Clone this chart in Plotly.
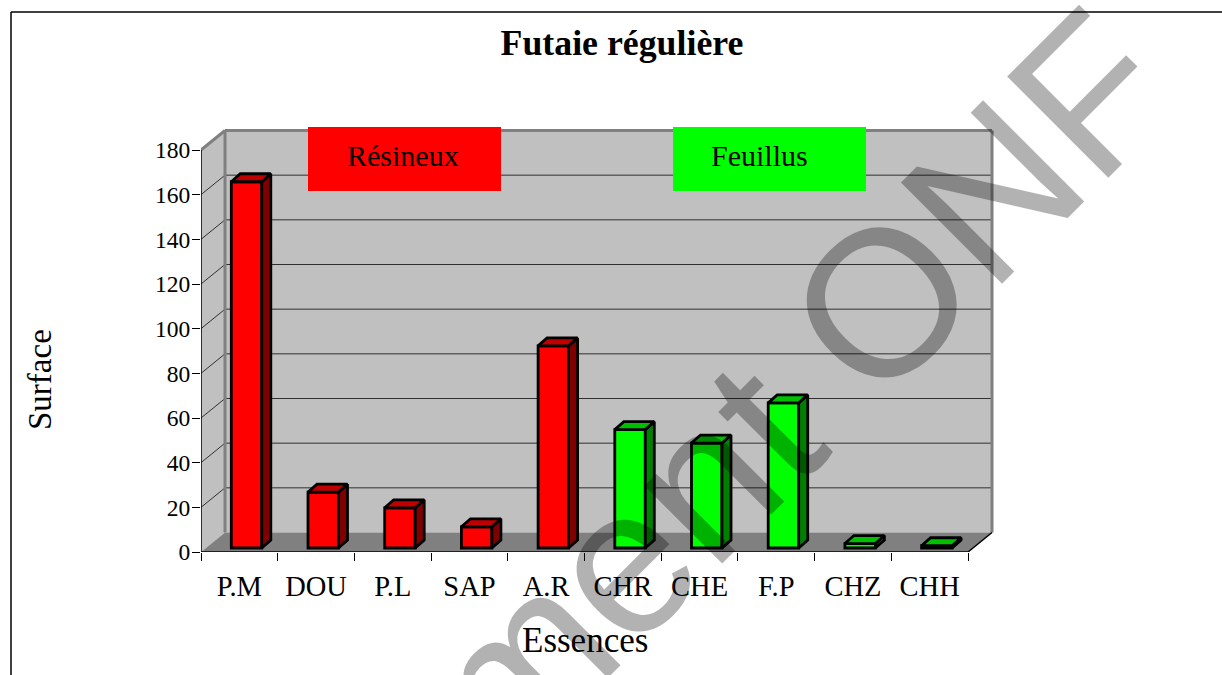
import plotly.graph_objects as go

# ---- data ----
categories = ["P.M", "DOU", "P.L", "SAP", "A.R", "CHR", "CHE", "F.P", "CHZ", "CHH"]
surface = [164, 25, 18, 9.5, 90.5, 53, 47, 65, 2, 1]
groups = ["r", "r", "r", "r", "r", "g", "g", "g", "g", "g"]
y_ticks = list(range(0, 181, 20))

# ---- page geometry (pixels) ----
W, H = 1222, 675
X0, X1 = 201, 968      # front floor edge
Y0, Y180 = 552, 150    # value 0 and value 180 on the front edge
DEPTH_PX = (24, 19.5)  # depth of the chart box
PAD = 4                # spare pixels so the wall borders are not clipped

px_x = (X1 - X0) / len(categories)
px_y = (Y0 - Y180) / 180
DX = DEPTH_PX[0] / px_x
DY = DEPTH_PX[1] / px_y
xl, xr = -0.5, len(categories) - 0.5
x_top = xr + DX + PAD / px_x
y_top = 180 + DY + PAD / px_y

BAR_SHIFT = 7.2 / px_x      # bars stand in the middle of the floor
BAR_BASE = 4 / px_y
BAR_W = 30.5 / px_x
BAR_DX = 9 / px_x
BAR_DY = 8 / px_y
EDGE = 2.8

COL = {
    "r": dict(front="#FF0000", side="#800000", top="#C00000"),
    "g": dict(front="#00FF00", side="#008000", top="#00C000"),
}
SERIF = "Liberation Serif, serif"

fig = go.Figure()

# front faces
for g in ("r", "g"):
    idx = [i for i, k in enumerate(groups) if k == g]
    fig.add_trace(go.Bar(
        x=[i + BAR_SHIFT for i in idx],
        y=[surface[i] for i in idx],
        base=BAR_BASE,
        width=BAR_W,
        marker=dict(color=COL[g]["front"], line=dict(color="black", width=EDGE)),
        showlegend=False,
        hoverinfo="skip",
    ))

# side and top faces, derived from the same values
for g in ("r", "g"):
    sx, sy, tx, ty = [], [], [], []
    for i, (v, k) in enumerate(zip(surface, groups)):
        if k != g:
            continue
        l = i + BAR_SHIFT - BAR_W / 2
        r = i + BAR_SHIFT + BAR_W / 2
        t = BAR_BASE + v
        sx += [r, r + BAR_DX, r + BAR_DX, r, r, None]
        sy += [BAR_BASE, BAR_BASE + BAR_DY, t + BAR_DY, t, BAR_BASE, None]
        tx += [l, l + BAR_DX, r + BAR_DX, r, l, None]
        ty += [t, t + BAR_DY, t + BAR_DY, t, t, None]
    for xs, ys, c in ((sx, sy, COL[g]["side"]), (tx, ty, COL[g]["top"])):
        fig.add_trace(go.Scatter(
            x=xs, y=ys, mode="lines", fill="toself", fillcolor=c,
            line=dict(color="black", width=EDGE),
            showlegend=False, hoverinfo="skip",
        ))

# front axis lines, drawn over the plot edge
fig.add_trace(go.Scatter(
    x=[xl, xl, None, xl, xr, xr + DX], y=[180, 0, None, 0, 0, DY],
    mode="lines", line=dict(color="black", width=1.5), cliponaxis=False,
    showlegend=False, hoverinfo="skip",
))

# box: walls, floor, gridlines
shapes = [
    dict(type="path", xref="x", yref="y", layer="below", line_width=0, fillcolor="#C0C0C0",
         path=f"M{xl+DX},{DY} L{xr+DX},{DY} L{xr+DX},{180+DY} L{xl+DX},{180+DY} Z"),
    dict(type="path", xref="x", yref="y", layer="below", line_width=0, fillcolor="#C0C0C0",
         path=f"M{xl},0 L{xl+DX},{DY} L{xl+DX},{180+DY} L{xl},180 Z"),
    dict(type="path", xref="x", yref="y", layer="below", line_width=0, fillcolor="#808080",
         path=f"M{xl},0 L{xr},0 L{xr+DX},{DY} L{xl+DX},{DY} Z"),
]
for v in y_ticks[1:-1]:
    shapes.append(dict(type="line", xref="x", yref="y", layer="below",
                       x0=xl + DX, x1=xr + DX, y0=v + DY, y1=v + DY,
                       line=dict(color="#303030", width=1)))
    shapes.append(dict(type="line", xref="x", yref="y", layer="below",
                       x0=xl, x1=xl + DX, y0=v, y1=v + DY,
                       line=dict(color="#303030", width=1)))
for a, b, c, d in (
    (xl, 180, xl + DX, 180 + DY),
    (xl + DX, 180 + DY, xr + DX, 180 + DY),
    (xl + DX, 180 + DY, xl + DX, DY),
    (xr + DX, 180 + DY, xr + DX, DY),
):
    shapes.append(dict(type="line", xref="x", yref="y", layer="below",
                       x0=a, y0=b, x1=c, y1=d, line=dict(color="#808080", width=3)))

# outer frame, running off the page
shapes.append(dict(type="line", xref="paper", yref="paper", x0=11 / W, x1=1, y0=1 - 12 / H, y1=1 - 12 / H,
                   line=dict(color="black", width=1.5)))
shapes.append(dict(type="line", xref="paper", yref="paper", x0=11 / W, x1=11 / W, y0=0, y1=1 - 12 / H,
                   line=dict(color="black", width=1.5)))

# legend boxes
for left, right, colour in ((308, 501, "#FF0000"), (673, 866, "#00FF00")):
    shapes.append(dict(type="rect", xref="paper", yref="paper", layer="above", line_width=0, fillcolor=colour,
                       x0=left / W, x1=right / W, y0=1 - 191 / H, y1=1 - 127 / H))


def page(x, y, text, size, **kw):
    return dict(xref="paper", yref="paper", x=x / W, y=1 - y / H, text=text, showarrow=False,
                xanchor="center", yanchor="middle", font=dict(family=SERIF, size=size, color="black"), **kw)


annotations = [
    page(402.5, 156, "Résineux", 30),
    page(759.5, 156, "Feuillus", 30),
    page(585, 640, "Essences", 35),
    page(40, 380, "Surface", 33, textangle=-90),
    dict(xref="paper", yref="paper", x=624 / W, y=1 - 560 / H, text="Document ONF", showarrow=False,
         xanchor="center", yanchor="middle", textangle=-45,
         font=dict(family="Liberation Sans, Arial, sans-serif", size=208, color="rgba(0,0,0,0.3)")),
]

fig.update_layout(
    width=W, height=H, autosize=False,
    margin=dict(l=0, r=0, t=0, b=0, autoexpand=False),
    paper_bgcolor="white", plot_bgcolor="white",
    showlegend=False, barmode="overlay",
    title=dict(text="<b>Futaie régulière</b>", x=622 / W, xanchor="center", y=1 - 42 / H, yanchor="middle",
               font=dict(family=SERIF, size=35.8, color="black")),
    xaxis=dict(
        automargin=False,
        domain=[X0 / W, (X0 + (x_top - xl) * px_x) / W],
        range=[xl, x_top], showgrid=False, zeroline=False, showline=False,
        tickmode="array", tickvals=list(range(len(categories))), ticktext=categories,
        ticks="", ticklabelstandoff=14,
        tickfont=dict(family=SERIF, size=28.5, color="black"),
        minor=dict(tickmode="array", tickvals=[i - 0.5 for i in range(len(categories) + 1)],
                   ticks="outside", ticklen=8, tickwidth=1, tickcolor="black", showgrid=False),
    ),
    yaxis=dict(
        automargin=False,
        domain=[(H - Y0) / H, (H - Y0 + y_top * px_y) / H],
        range=[0, y_top], showgrid=False, zeroline=False, showline=False,
        tickmode="array", tickvals=y_ticks,
        ticks="outside", ticklen=8, tickwidth=1, tickcolor="black", ticklabelstandoff=-3,
        tickfont=dict(family=SERIF, size=23.5, color="black"),
    ),
    shapes=shapes,
    annotations=annotations,
)

fig.write_html(
    "out.html",
    default_width="1222px", default_height="675px",
    config={"displayModeBar": False, "responsive": False},
    post_script="document.body.style.margin='0';document.body.style.overflow='hidden';",
)
